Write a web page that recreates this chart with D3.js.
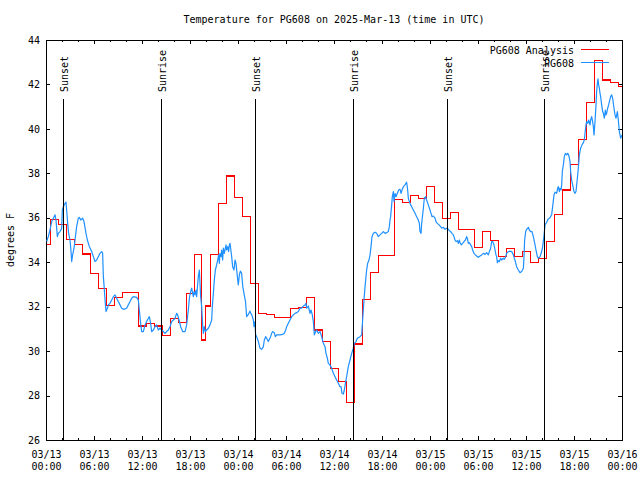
<!DOCTYPE html>
<html>
<head>
<meta charset="utf-8">
<script src="https://cdn.jsdelivr.net/npm/d3@7"></script>
<style>
  body { margin: 0; background: #fff; }
  svg { display: block; }
  text { font-family: "DejaVu Sans Mono", monospace; font-size: 10px; fill: #000; }
</style>
</head>
<body>
<svg id="chart" width="640" height="480"></svg>
<script>
// ---------------- data ----------------
const chartTitle = "Temperature for PG608 on 2025-Mar-13 (time in UTC)";
const yAxisLabel = "degrees F";
const startTime = "2025-03-13T00:00:00Z";
const endTime = "2025-03-16T00:00:00Z";
const yMin = 26, yMax = 44;
const yTicks = [26, 28, 30, 32, 34, 36, 38, 40, 42, 44];
const seriesNames = ["PG608 Analysis", "PG608"];
const seriesColors = ["#ff0000", "#1e90ff"];

const sunLabels = ["Sunset", "Sunrise", "Sunset", "Sunrise", "Sunset", "Sunrise"];
const sunTimes = ["2025-03-13T02:10:00Z", "2025-03-13T14:28:00Z", "2025-03-14T02:10:00Z",
                  "2025-03-14T14:25:00Z", "2025-03-15T02:10:00Z", "2025-03-15T14:17:00Z"];

// analysis (hours after start, deg F)
const analysisHours = [0.1, 1.1, 2.1, 3.1, 4.1, 5.1, 6.1, 7.1, 8.1, 9.1, 10.1, 11.1, 12.1, 13.1, 14.1,
  15.1, 16.1, 17.1, 18.1, 19.1, 19.75, 20.1, 21.1, 22.1, 23.1, 24.1, 25.1, 26.1, 27.1, 28.1, 29.1,
  30.1, 31.1, 32.1, 33.1, 34.1, 35.1, 36.1, 37.1, 38.1, 39.1, 40.1, 41.1, 42.1, 43.1, 44.1, 45.1,
  46.1, 47.1, 48.1, 49.1, 50.1, 51.1, 52.1, 53.1, 54.1, 55.1, 56.1, 57.1, 58.1, 59.1, 60.1, 61.1,
  62.1, 63.1, 64.1, 65.1, 66.1, 67.1, 68.1, 69.1, 70.1, 71.1, 72.1];
const analysisTemps = [34.78, 35.93, 35.7, 35.03, 34.78, 34.37, 33.5, 32.83, 32.07, 32.42, 32.65, 32.65,
  31.13, 31.25, 31.13, 30.72, 31.47, 31.3, 32.6, 34.35, 30.5, 32.03, 34.33, 36.65, 37.88, 36.9, 36.05,
  33.05, 31.7, 31.65, 31.5, 31.5, 31.9, 31.97, 32.42, 30.95, 30.43, 29.23, 28.63, 27.7, 30.32, 32.33,
  33.55, 34.3, 34.3, 36.83, 36.69, 37.0, 36.85, 37.4, 36.69, 35.97, 36.24, 35.48, 35.48, 34.67, 35.38,
  34.97, 34.25, 34.6, 34.25, 34.48, 33.98, 34.17, 34.93, 36.13, 37.25, 38.4, 39.53, 41.18, 43.06,
  42.2, 42.1, 41.9];

// observations (hours after start, deg F)
const obsHours = [0.08, 0.29, 0.5, 0.71, 0.92, 1.13, 1.25, 1.42, 1.54, 1.75, 1.96, 2.04, 2.17, 2.38, 2.5,
  2.58, 2.71, 2.83, 3.0, 3.13, 3.21, 3.33, 3.5, 3.63, 3.83, 4.04, 4.17, 4.33, 4.58, 4.75, 5.0, 5.17,
  5.42, 5.71, 5.92, 6.13, 6.33, 6.54, 6.75, 6.96, 7.08, 7.17, 7.25, 7.38, 7.5, 7.67, 7.79, 8.0, 8.21,
  8.42, 8.63, 8.83, 9.04, 9.25, 9.46, 9.67, 10.08, 10.29, 10.5, 10.71, 10.92, 11.33, 11.54, 11.67,
  11.83, 11.96, 12.17, 12.38, 12.58, 12.79, 12.92, 13.08, 13.21, 13.42, 13.63, 13.83, 14.04, 14.25,
  14.46, 14.67, 14.88, 15.08, 15.29, 15.5, 15.71, 15.92, 16.13, 16.33, 16.46, 16.63, 16.83, 17.08,
  17.38, 17.58, 17.79, 17.92, 18.08, 18.21, 18.33, 18.42, 18.5, 18.63, 18.75, 18.83, 18.92, 19.04,
  19.17, 19.25, 19.33, 19.46, 19.58, 19.67, 19.79, 19.92, 20.08, 20.29, 20.5, 20.71, 20.79, 20.92,
  21.04, 21.17, 21.33, 21.46, 21.58, 21.67, 21.75, 21.88, 21.96, 22.08, 22.17, 22.29, 22.42, 22.5,
  22.58, 22.71, 22.83, 22.92, 23.0, 23.08, 23.21, 23.33, 23.5, 23.63, 23.75, 23.92, 24.04, 24.17,
  24.3, 24.45, 24.6, 24.8, 24.95, 25.08, 25.3, 25.5, 25.6, 25.75, 25.92, 26.0, 26.12, 26.2, 26.33,
  26.54, 26.75, 26.96, 27.17, 27.29, 27.46, 27.58, 27.79, 27.92, 28.08, 28.21, 28.33, 28.54, 28.67,
  28.83, 29.25, 29.58, 29.79, 29.96, 30.08, 30.29, 30.5, 30.71, 30.92, 31.13, 31.33, 31.54, 31.75,
  31.96, 32.17, 32.38, 32.5, 32.58, 32.79, 33.0, 33.13, 33.29, 33.42, 33.54, 33.71, 33.83, 34.04,
  34.25, 34.46, 34.67, 34.88, 35.0, 35.17, 35.29, 35.5, 35.71, 35.92, 36.13, 36.33, 36.54, 36.75,
  36.88, 37.0, 37.17, 37.29, 37.42, 37.58, 37.79, 38.0, 38.21, 38.42, 38.54, 38.75, 38.92, 39.25,
  39.46, 39.58, 39.75, 39.88, 40.08, 40.21, 40.38, 40.5, 40.63, 40.75, 40.92, 41.13, 41.33, 41.54,
  41.75, 41.96, 42.17, 42.38, 42.58, 42.79, 42.92, 43.0, 43.08, 43.21, 43.29, 43.42, 43.5, 43.63,
  43.75, 43.92, 44.08, 44.25, 44.38, 44.5, 44.67, 44.88, 45.08, 45.21, 45.29, 45.42, 45.58, 45.71,
  45.92, 46.13, 46.33, 46.54, 46.67, 46.75, 46.88, 46.96, 47.17, 47.29, 47.46, 47.58, 47.79, 48.0,
  48.13, 48.25, 48.42, 48.63, 48.75, 48.92, 49.13, 49.33, 49.46, 49.67, 49.88, 50.08, 50.29, 50.42,
  50.58, 50.75, 50.92, 51.13, 51.25, 51.42, 51.54, 51.67, 51.75, 51.92, 52.08, 52.25, 52.42, 52.58,
  52.67, 52.79, 52.92, 53.08, 53.21, 53.33, 53.5, 53.67, 53.83, 54.04, 54.25, 54.46, 54.67, 54.88,
  55.08, 55.29, 55.42, 55.58, 55.71, 55.83, 56.0, 56.13, 56.25, 56.33, 56.42, 56.54, 56.67, 56.83,
  56.96, 57.17, 57.29, 57.46, 57.58, 57.79, 58.0, 58.21, 58.42, 58.54, 58.67, 58.83, 59.04, 59.25,
  59.46, 59.67, 59.75, 59.83, 59.96, 60.08, 60.29, 60.42, 60.58, 60.75, 60.92, 61.13, 61.25, 61.42,
  61.54, 61.75, 61.96, 62.08, 62.25, 62.38, 62.58, 62.79, 63.0, 63.21, 63.33, 63.5, 63.63, 63.83,
  63.96, 64.04, 64.17, 64.25, 64.38, 64.46, 64.54, 64.67, 64.79, 64.92, 65.08, 65.21, 65.33, 65.42,
  65.5, 65.58, 65.71, 65.83, 66.0, 66.13, 66.25, 66.42, 66.54, 66.67, 66.83, 67.0, 67.17, 67.29,
  67.42, 67.5, 67.58, 67.71, 67.83, 68.0, 68.08, 68.21, 68.33, 68.42, 68.5, 68.63, 68.75, 68.83,
  68.92, 69.0, 69.08, 69.17, 69.25, 69.33, 69.46, 69.58, 69.67, 69.79, 69.92, 70.0, 70.08, 70.21,
  70.33, 70.42, 70.58, 70.71, 70.83, 71.0, 71.13, 71.25, 71.42, 71.54, 71.67, 71.83, 72.0];
const obsTemps = [34.93, 35.15, 35.45, 35.83, 35.98, 36.13, 35.9, 35.15, 35.3, 35.38, 35.52, 36.35, 36.5,
  36.65, 36.7, 36.35, 35.75, 35.3, 35.0, 34.48, 34.03, 34.33, 34.63, 35.0, 35.6, 35.98, 36.02, 35.9,
  35.98, 35.83, 35.3, 35.0, 34.7, 34.48, 34.25, 34.03, 34.1, 34.25, 34.4, 34.48, 34.4, 33.35, 32.98,
  32.3, 31.78, 31.93, 32.08, 32.15, 32.3, 32.45, 32.53, 32.38, 32.23, 32.08, 31.93, 31.88, 31.93,
  32.08, 32.23, 32.38, 32.45, 32.42, 32.3, 31.85, 31.25, 30.88, 30.88, 31.18, 31.33, 31.48, 31.55,
  31.25, 30.88, 30.95, 31.1, 31.18, 30.95, 31.03, 30.95, 30.88, 30.8, 30.88, 30.95, 31.1, 31.33,
  31.4, 31.48, 31.7, 31.63, 31.4, 31.1, 30.88, 30.88, 31.18, 31.85, 32.38, 32.68, 32.83, 32.6,
  32.45, 32.68, 32.53, 32.75, 32.45, 32.83, 33.35, 33.65, 33.05, 32.45, 32.0, 31.18, 30.8, 31.1,
  30.88, 30.95, 31.03, 31.18, 31.4, 32.0, 32.6, 33.2, 33.65, 33.88, 34.1, 34.33, 33.95, 34.4, 34.25,
  34.55, 34.1, 34.63, 34.4, 34.63, 34.78, 34.55, 34.7, 34.48, 34.78, 34.85, 34.63, 34.25, 33.8,
  33.65, 34.1, 33.95, 33.35, 32.98, 33.43, 33.6, 33.5, 32.9, 32.5, 32.2, 31.55, 31.65, 31.8, 31.7,
  31.6, 31.4, 31.1, 31.33, 30.73, 30.65, 30.43, 30.13, 30.08, 30.2, 30.5, 30.65, 30.58, 30.43,
  30.53, 30.65, 30.8, 30.88, 30.83, 30.65, 30.73, 30.73, 30.75, 30.8, 30.95, 31.1, 31.25, 31.4,
  31.55, 31.63, 31.7, 31.73, 31.78, 31.93, 31.93, 32.03, 32.08, 32.15, 31.93, 32.03, 31.7, 31.85,
  31.63, 31.33, 30.73, 30.88, 30.95, 30.8, 30.88, 30.65, 30.35, 30.2, 29.9, 29.68, 29.45, 29.38,
  29.23, 29.0, 28.85, 28.7, 28.55, 28.4, 28.4, 28.1, 28.07, 28.25, 28.55, 28.85, 29.3, 29.6, 29.9,
  30.13, 30.35, 30.43, 30.58, 30.65, 30.73, 31.4, 32.3, 32.9, 33.65, 33.95, 34.1, 34.33, 34.7,
  35.15, 35.3, 35.35, 35.3, 35.15, 35.23, 35.3, 35.38, 35.3, 35.33, 35.38, 35.6, 35.9, 36.05, 36.58,
  36.95, 37.18, 36.73, 37.1, 36.95, 37.1, 37.25, 37.28, 37.1, 37.25, 37.4, 37.48, 37.6, 37.25,
  36.88, 36.73, 36.58, 36.5, 36.35, 36.2, 36.05, 35.9, 35.75, 35.38, 35.3, 35.75, 36.43, 36.88,
  36.95, 36.8, 36.58, 36.35, 36.2, 36.05, 36.08, 35.98, 35.83, 35.75, 35.68, 35.6, 35.53, 35.57,
  35.48, 35.53, 35.48, 35.42, 35.38, 35.3, 35.23, 35.0, 34.93, 34.97, 34.85, 35.0, 34.88, 34.78,
  34.85, 34.93, 35.0, 35.15, 35.08, 34.85, 34.88, 34.78, 34.7, 34.55, 34.4, 34.33, 34.28, 34.22,
  34.28, 34.33, 34.4, 34.35, 34.43, 34.33, 34.48, 34.63, 34.93, 34.93, 34.78, 34.55, 34.33, 34.25,
  33.98, 34.07, 34.03, 34.18, 34.1, 34.18, 34.13, 34.25, 34.4, 34.48, 34.5, 34.48, 34.33, 34.18,
  34.03, 33.8, 33.65, 33.53, 33.58, 33.73, 34.25, 35.0, 35.38, 35.48, 35.57, 35.45, 35.38, 35.38,
  35.15, 34.78, 34.55, 34.25, 34.18, 34.25, 34.48, 34.7, 35.2, 35.68, 35.8, 35.95, 36.0, 36.15,
  36.5, 37.03, 37.15, 37.1, 37.33, 37.4, 37.18, 37.33, 37.25, 37.48, 38.08, 38.38, 38.75, 38.9,
  38.83, 38.9, 38.83, 38.68, 38.53, 38.08, 37.7, 37.48, 37.18, 37.1, 37.18, 37.78, 38.23, 38.83,
  39.13, 39.28, 39.38, 39.5, 39.95, 40.18, 40.33, 40.25, 40.4, 40.18, 40.4, 40.55, 40.33, 40.1,
  39.73, 40.33, 41.08, 41.68, 42.05, 42.25, 41.98, 41.83, 41.6, 41.45, 41.08, 40.78, 40.7, 40.48,
  40.85, 40.63, 40.7, 40.93, 41.08, 41.23, 41.45, 41.53, 41.38, 40.93, 40.63, 40.48, 40.78, 40.4,
  39.88, 39.58, 39.73];

// ---------------- drawing ----------------
const W = 640, H = 480;
const margin = { left: 46, right: 18, top: 40, bottom: 40 };
const svg = d3.select("#chart");

const t0 = new Date(startTime), t1 = new Date(endTime);
const toDate = h => new Date(t0.getTime() + h * 3600000);

const x = d3.scaleUtc().domain([t0, t1]).range([margin.left, W - margin.right]);
const y = d3.scaleLinear().domain([yMin, yMax]).range([H - margin.bottom, margin.top]);

const tEnd = new Date(t1.getTime() + 1);
const majorTicks = d3.utcHour.every(6).range(t0, tEnd);
const minorTicks = d3.utcHour.every(2).range(t0, tEnd);

function styleAxis(g) {
  g.select(".domain").remove();
  g.attr("font-family", null).attr("font-size", null);
  g.selectAll(".tick line").attr("stroke", "#000").attr("shape-rendering", "crispEdges");
}

// bottom axis: major with two-line labels
const gxb = svg.append("g").attr("transform", `translate(0,${H - margin.bottom})`)
  .call(d3.axisBottom(x).tickValues(majorTicks).tickSizeInner(-4).tickSizeOuter(0)
    .tickPadding(0).tickFormat(d3.utcFormat("%m/%d")));
styleAxis(gxb);
gxb.selectAll(".tick text").attr("y", 18).attr("dy", null)
  .each(function (d) {
    d3.select(this).append("tspan").attr("x", 0).attr("dy", 12).text(d3.utcFormat("%H:%M")(d));
  });
const gxbm = svg.append("g").attr("transform", `translate(0,${H - margin.bottom})`)
  .call(d3.axisBottom(x).tickValues(minorTicks).tickSizeInner(-2).tickSizeOuter(0).tickFormat(""));
styleAxis(gxbm);

// top axis (mirror)
const gxt = svg.append("g").attr("transform", `translate(0,${margin.top})`)
  .call(d3.axisTop(x).tickValues(majorTicks).tickSizeInner(-4).tickSizeOuter(0).tickFormat(""));
styleAxis(gxt);
const gxtm = svg.append("g").attr("transform", `translate(0,${margin.top})`)
  .call(d3.axisTop(x).tickValues(minorTicks).tickSizeInner(-2).tickSizeOuter(0).tickFormat(""));
styleAxis(gxtm);

// left axis
const gyl = svg.append("g").attr("transform", `translate(${margin.left},0)`)
  .call(d3.axisLeft(y).tickValues(yTicks).tickSizeInner(-4).tickSizeOuter(0).tickPadding(6)
    .tickFormat(d3.format("d")));
styleAxis(gyl);
// right axis (mirror)
const gyr = svg.append("g").attr("transform", `translate(${W - margin.right},0)`)
  .call(d3.axisRight(y).tickValues(yTicks).tickSizeInner(-4).tickSizeOuter(0).tickFormat(""));
styleAxis(gyr);

// frame
svg.append("rect")
  .attr("x", margin.left).attr("y", margin.top)
  .attr("width", W - margin.left - margin.right).attr("height", H - margin.top - margin.bottom)
  .attr("fill", "none").attr("stroke", "#000").attr("shape-rendering", "crispEdges");

// clip
svg.append("clipPath").attr("id", "plotclip").append("rect")
  .attr("x", margin.left).attr("y", margin.top)
  .attr("width", W - margin.left - margin.right).attr("height", H - margin.top - margin.bottom);

const plot = svg.append("g").attr("clip-path", "url(#plotclip)");

const analysis = analysisHours.map((h, i) => [toDate(h), analysisTemps[i]]);
const obs = obsHours.map((h, i) => [toDate(h), obsTemps[i]]);

const lineStep = d3.line().x(d => x(d[0])).y(d => y(d[1])).curve(d3.curveStep);
const lineLin = d3.line().x(d => x(d[0])).y(d => y(d[1]));

plot.append("path").datum(analysis).attr("d", lineStep)
  .attr("fill", "none").attr("stroke", seriesColors[0]).attr("stroke-width", 1.2)
  .attr("shape-rendering", "crispEdges");
plot.append("path").datum(obs).attr("d", lineLin)
  .attr("fill", "none").attr("stroke", seriesColors[1]).attr("stroke-width", 1.2)
  .attr("stroke-linejoin", "round");

// sunrise / sunset markers
const labelBottomY = 92, lineTopY = 99;
sunTimes.forEach((t, i) => {
  const xs = x(new Date(t));
  svg.append("line")
    .attr("x1", xs).attr("x2", xs).attr("y1", lineTopY).attr("y2", H - margin.bottom)
    .attr("stroke", "#000").attr("shape-rendering", "crispEdges");
  svg.append("text")
    .attr("transform", `translate(${xs + 4.5},${labelBottomY}) rotate(-90)`)
    .attr("text-anchor", "start")
    .text(sunLabels[i]);
});

// title
svg.append("text").attr("x", (margin.left + W - margin.right) / 2).attr("y", 23)
  .attr("text-anchor", "middle").text(chartTitle);

// y axis label
svg.append("text").attr("transform", `translate(14,${(margin.top + H - margin.bottom) / 2}) rotate(-90)`)
  .attr("text-anchor", "middle").text(yAxisLabel);

// legend
const legendTextX = 574, legendLineX1 = 581, legendLineX2 = 609;
seriesNames.forEach((name, i) => {
  const cy = 49.5 + i * 13;
  svg.append("text").attr("x", legendTextX).attr("y", cy + 4).attr("text-anchor", "end").text(name);
  svg.append("line").attr("x1", legendLineX1).attr("x2", legendLineX2).attr("y1", cy).attr("y2", cy)
    .attr("stroke", seriesColors[i]).attr("shape-rendering", "crispEdges");
});
</script>
</body>
</html>
